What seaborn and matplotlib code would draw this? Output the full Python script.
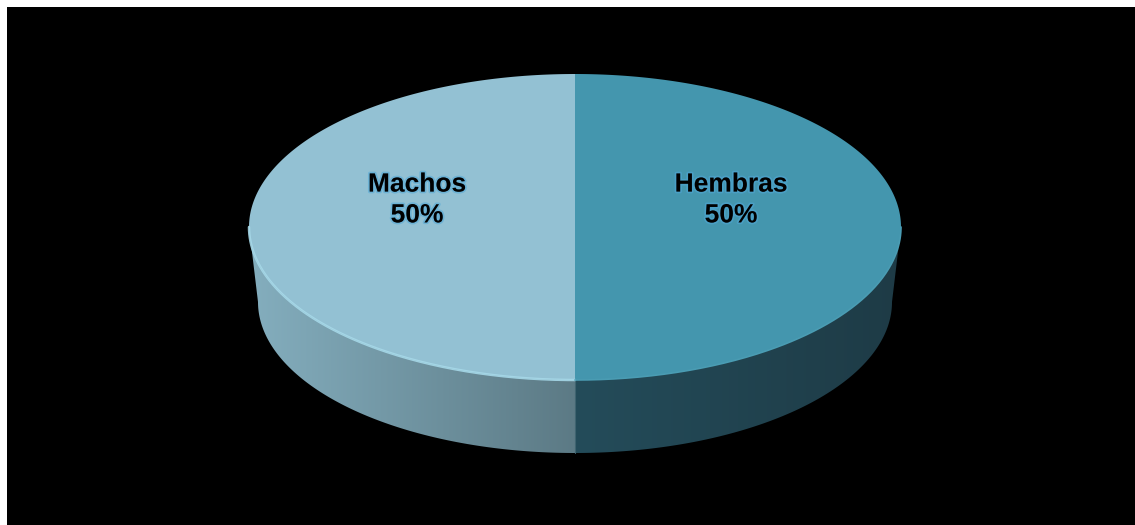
import numpy as np
import matplotlib
matplotlib.use("Agg")
import matplotlib.pyplot as plt
import matplotlib.patheffects as pe
from matplotlib.patches import Polygon, Rectangle
from matplotlib.colors import to_rgb
import seaborn as sns

# ---- data ----
categories = ["Hembras", "Machos"]
values = [50, 50]
top_colors = ["#4496AE", "#93C1D3"]
side_left_colors = ["#244C5A", "#84AEBE"]
side_right_colors = ["#1E3B46", "#5C7A85"]
label_pos = [(731, 200), (417, 200)]

sns.set_theme(style="white")
plt.rcParams['font.family'] = ['Liberation Sans', 'DejaVu Sans']

W, H = 1135, 525
fig = plt.figure(figsize=(W / 100, H / 100), dpi=100, facecolor="white")
ax = fig.add_axes([0, 0, 1, 1])
ax.set_xlim(0, W)
ax.set_ylim(H, 0)
ax.axis("off")

ax.add_patch(Rectangle((7, 7), W, H, facecolor="black", edgecolor="none", zorder=0))

cx, cy, a, b, depth = 575, 227, 326, 153, 75
a2, b2 = 317, 151  # slightly narrower bottom ellipse (perspective)

def ell(theta_deg, ax_=a, by_=b, yc=cy):
    t = np.radians(theta_deg)
    return cx + ax_ * np.cos(t), yc - by_ * np.sin(t)

# slices clockwise from top
total = float(sum(values))
start = 90.0
slices = []
for v in values:
    span = 360.0 * v / total
    slices.append((start - span, start))
    start -= span

# sides (front half: theta in [180, 360])
for i, (t0, t1) in enumerate(slices):
    lo, hi = t0 % 360, (t0 % 360) + (t1 - t0)
    for off in (0, 360, -360):
        s = max(lo + off, 180)
        e = min(hi + off, 360)
        if e > s:
            th = np.linspace(s, e, 200)
            xs, ys = ell(th)
            xb, yb = ell(th, a2, b2, cy + depth)
            pts = np.column_stack([np.r_[xs, xb[::-1]], np.r_[ys, yb[::-1]]])
            poly = Polygon(pts, closed=True, facecolor="none", edgecolor="none")
            ax.add_patch(poly)
            c0 = np.array(to_rgb(side_left_colors[i]))
            c1 = np.array(to_rgb(side_right_colors[i]))
            n = 256
            fr = np.linspace(0, 1, n)[:, None]
            grad = (c0 * (1 - fr) + c1 * fr)[None, :, :]
            im = ax.imshow(grad, extent=(xs.min(), xs.max(), yb.max(), ys.min()),
                           aspect="auto", zorder=1, interpolation="bilinear")
            im.set_clip_path(poly)

# top faces
for i, (t0, t1) in enumerate(slices):
    th = np.linspace(t0, t1, 300)
    xs, ys = ell(th)
    pts = np.column_stack([np.r_[cx, xs], np.r_[cy, ys]])
    ax.add_patch(Polygon(pts, closed=True, facecolor=top_colors[i], edgecolor="none", zorder=2))

# divider line on side
ax.plot([cx, cx], [cy + b, cy + b2 + depth], color="#3F6470", lw=0.8, zorder=3)

# highlight rim on front edge of the top face
th = np.linspace(180, 270, 200)
xs, ys = ell(th)
ax.plot(xs, ys, color="#A6D8E8", lw=1.8, zorder=3, alpha=0.9)
th = np.linspace(270, 360, 200)
xs, ys = ell(th)
ax.plot(xs, ys, color="#4A9CB3", lw=1.2, zorder=3)

ax.set_xlim(0, W)
ax.set_ylim(H, 0)

for (x, y), cat, v in zip(label_pos, categories, values):
    pct = 100.0 * v / total
    ax.text(x, y, f"{cat}\n{pct:.0f}%", ha="center", va="center", fontsize=19,
            fontweight="bold", color="black", linespacing=1.36, zorder=5,
            path_effects=[pe.withStroke(linewidth=2.5, foreground="#4FA8D8", alpha=0.55)])

fig.savefig("out.png", dpi=100, facecolor="white")
